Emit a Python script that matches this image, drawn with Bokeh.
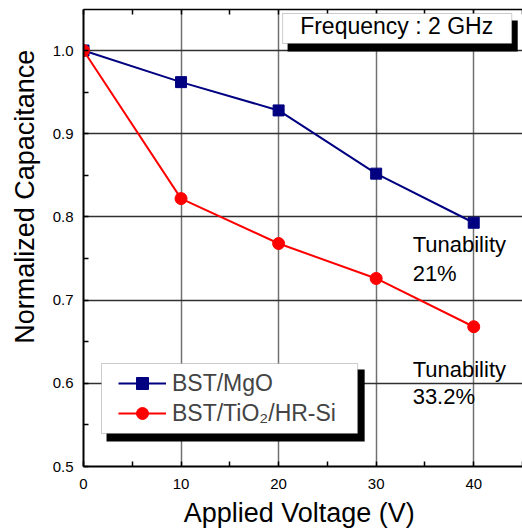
from bokeh.plotting import figure
from bokeh.models import (LinearAxis, FixedTicker, Range1d, Label, BoxAnnotation,
                          Legend, LegendItem)
from bokeh.embed import file_html
from bokeh.resources import INLINE

voltage = [0, 10, 20, 30, 40]
bst_mgo = [1.0, 0.962, 0.928, 0.852, 0.793]
bst_tio2 = [1.0, 0.822, 0.768, 0.726, 0.668]
x_ticks = [0, 10, 20, 30, 40]
x_minor = [5, 15, 25, 35, 45]
y_ticks = [0.5, 0.6, 0.7, 0.8, 0.9, 1.0]
y_tick_labels = ["0.5", "0.6", "0.7", "0.8", "0.9", "1.0"]
y_minor = [0.55, 0.65, 0.75, 0.85, 0.95, 1.05]

FONT = "Liberation Sans"
NBSP = "\u00a0"

p = figure(width=522, height=531, output_backend="svg", toolbar_location=None,
           x_range=Range1d(0, 45), y_range=Range1d(0.5, 1.0493),
           min_border_left=83, min_border_right=0, min_border_top=9,
           min_border_bottom=65)
p.outline_line_color = None
p.background_fill_color = "white"
p.border_fill_color = "white"

# axes
for ax in (p.xaxis[0], p.yaxis[0]):
    ax.axis_line_width = 2
    ax.major_tick_in = 5
    ax.major_tick_out = 0
    ax.minor_tick_in = 5
    ax.minor_tick_out = 0
    ax.major_tick_line_width = 1.5
    ax.minor_tick_line_width = 1.5
    ax.major_label_text_font = FONT
    ax.major_label_text_font_size = "15px"
    ax.major_label_text_color = "black"
    ax.axis_label_text_font = FONT
    ax.axis_label_text_font_size = "27px"
    ax.axis_label_text_font_style = "normal"
    ax.axis_label_text_color = "black"

p.xaxis[0].ticker = FixedTicker(ticks=x_ticks, minor_ticks=x_minor)
p.yaxis[0].ticker = FixedTicker(ticks=y_ticks, minor_ticks=y_minor)
p.yaxis[0].major_label_overrides = {t: l for t, l in zip(y_ticks, y_tick_labels)}
p.xaxis[0].axis_label = "Applied Voltage (V)" + NBSP
# the original title sits above the axis centre: pad its start with spaces
p.yaxis[0].axis_label = NBSP * 11 + "Normalized Capacitance"
p.xaxis[0].major_label_standoff = 12
p.yaxis[0].major_label_standoff = 10
p.xaxis[0].axis_label_standoff = 6
p.yaxis[0].axis_label_standoff = 10

top = LinearAxis(ticker=FixedTicker(ticks=x_ticks, minor_ticks=x_minor),
                 major_label_overrides={t: "" for t in x_ticks},
                 major_tick_in=5, major_tick_out=0,
                 minor_tick_in=5, minor_tick_out=0, major_label_standoff=0,
                 axis_line_width=1.5, major_tick_line_width=1.5, minor_tick_line_width=1.5)
p.add_layout(top, "above")

p.xgrid.ticker = FixedTicker(ticks=x_ticks)
p.ygrid.ticker = FixedTicker(ticks=y_ticks)
p.xgrid.grid_line_color = "#707070"
p.xgrid.grid_line_width = 1.5
p.ygrid.grid_line_color = "#303030"
p.ygrid.grid_line_width = 1.5

# data
l1 = p.line(voltage, bst_mgo, line_color="#000080", line_width=2)
m1 = p.scatter(voltage, bst_mgo, marker="square", size=11, fill_color="#000080",
               line_color="#000080")
l2 = p.line(voltage, bst_tio2, line_color="#ff0000", line_width=2)
m2 = p.scatter(voltage, bst_tio2, marker="circle", size=12, fill_color="#ff0000",
               line_color="#ff0000")

# Frequency box with shadow
p.add_layout(BoxAnnotation(left=20.92, right=44.51, top=1.036, bottom=0.9988,
                           fill_color="black", fill_alpha=1, line_color=None))
p.add_layout(BoxAnnotation(left=20.41, right=43.9, top=1.0445, bottom=1.0084,
                           fill_color="white", fill_alpha=1, line_color="#555555",
                           line_width=1))
p.add_layout(Label(x=32.1, y=1.029, text="Frequency : 2 GHz", text_font=FONT,
                   text_font_size="23px", text_align="center",
                   text_baseline="alphabetic", text_color="black"))

# Legend box with shadow
p.add_layout(BoxAnnotation(left=2.36, right=28.82, top=0.6166, bottom=0.530,
                           fill_color="black", fill_alpha=1, line_color=None))
p.add_layout(BoxAnnotation(left=1.846, right=28.10, top=0.6238, bottom=0.5397,
                           fill_color="white", fill_alpha=1, line_color="#555555",
                           line_width=1))
legend = Legend(items=[LegendItem(label="BST/MgO", renderers=[l1, m1]),
                       LegendItem(label="BST/TiO\u2082/HR-Si", renderers=[l2, m2])],
                location=(35, 38), padding=0, margin=0, spacing=0,
                glyph_width=48, glyph_height=30, label_standoff=6,
                label_height=30,
                label_text_font=FONT, label_text_font_size="23px",
                background_fill_alpha=0, border_line_color=None)
p.add_layout(legend, "center")

# Tunability annotations
for txt, yy in (("Tunability", 0.7672), ("21%", 0.7324),
                ("Tunability", 0.617), ("33.2%", 0.5845)):
    p.add_layout(Label(x=33.74, y=yy, text=txt, text_font=FONT, text_font_size="22px",
                       text_align="left", text_baseline="alphabetic",
                       text_color="black"))

open("out.html", "w").write(file_html(p, INLINE))
